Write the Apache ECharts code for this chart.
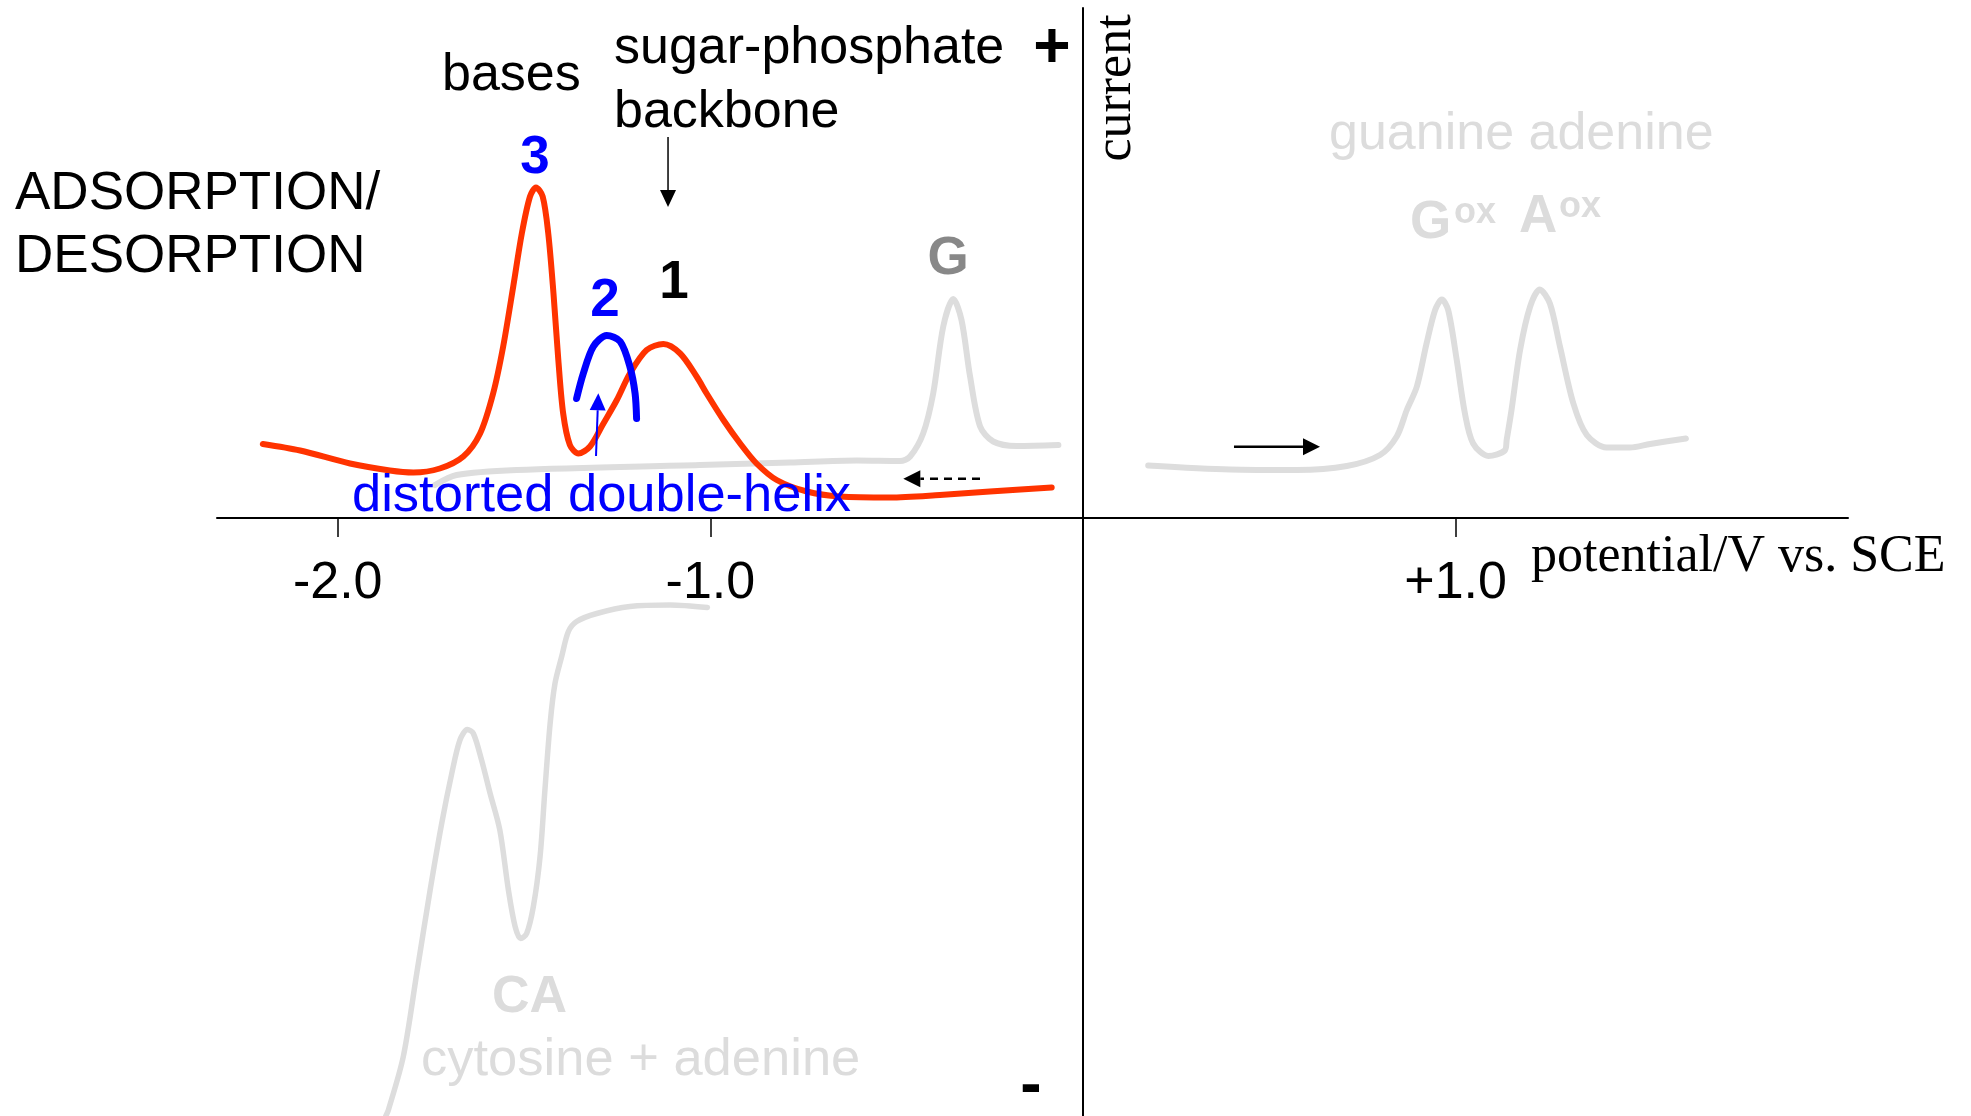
<!DOCTYPE html>
<html><head><meta charset="utf-8">
<script src="https://cdn.jsdelivr.net/npm/echarts@6/dist/echarts.min.js"></script>
<style>html,body{margin:0;padding:0;background:#fff}#c{width:1971px;height:1116px}</style>
</head><body><div id="c"></div>
<script>
// ---- data (potential / V vs. SCE, current in arbitrary units) ----
const xTicks = [-2, -1, 1];
const xTickLabels = ['-2.0', '-1.0', '+1.0'];

// adsorption/desorption (tensammetric) curve of DNA - red
const redCurve = [[-2.201,1.48],[-2.101,1.35],[-1.967,1.09],[-1.860,0.95],[-1.797,0.91],[-1.726,0.99],[-1.663,1.23],[-1.618,1.69],[-1.583,2.49],[-1.556,3.43],[-1.529,4.63],[-1.506,5.69],[-1.484,6.43],[-1.468,6.61],[-1.450,6.43],[-1.435,5.69],[-1.421,4.49],[-1.408,3.16],[-1.395,2.09],[-1.377,1.46],[-1.354,1.29],[-1.323,1.43],[-1.287,1.89],[-1.251,2.36],[-1.216,2.89],[-1.171,3.36],[-1.126,3.48],[-1.081,3.29],[-1.037,2.83],[-1.010,2.49],[-0.965,1.96],[-0.920,1.49],[-0.876,1.09],[-0.822,0.76],[-0.741,0.53],[-0.652,0.43],[-0.518,0.41],[-0.384,0.46],[-0.250,0.53],[-0.084,0.61]];

// peak 2 (distorted double-helix) - blue
const blueCurve2 = [[-1.359,2.39],[-1.341,2.89],[-1.314,3.43],[-1.278,3.65],[-1.242,3.53],[-1.216,3.03],[-1.202,2.49],[-1.198,1.99]];

// reverse scan with guanine reduction-product peak G - grey
const grayReverse = [[-1.739,0.66],[-1.681,0.86],[-1.520,0.96],[-1.028,1.06],[-0.786,1.11],[-0.607,1.15],[-0.491,1.14],[-0.464,1.23],[-0.429,1.69],[-0.402,2.49],[-0.375,3.83],[-0.348,4.38],[-0.326,3.96],[-0.303,2.83],[-0.276,1.83],[-0.241,1.53],[-0.178,1.44],[-0.066,1.46]];

// anodic oxidation of guanine and adenine - grey
const grayOxidation = [[0.175,1.05],[0.395,0.97],[0.574,0.96],[0.708,1.04],[0.797,1.26],[0.842,1.63],[0.869,2.16],[0.896,2.63],[0.922,3.49],[0.945,4.16],[0.963,4.37],[0.980,4.16],[1.003,3.16],[1.025,2.09],[1.047,1.49],[1.088,1.24],[1.132,1.35],[1.137,1.56],[1.150,2.16],[1.173,3.36],[1.200,4.23],[1.226,4.57],[1.253,4.29],[1.280,3.43],[1.316,2.29],[1.352,1.66],[1.405,1.41],[1.468,1.41],[1.522,1.48],[1.618,1.59]];

// cathodic reduction of cytosine + adenine (CA) - grey
const grayCA = [[-1.871,-11.96],[-1.864,-11.84],[-1.824,-10.77],[-1.788,-9.11],[-1.752,-7.44],[-1.721,-6.11],[-1.694,-5.11],[-1.672,-4.44],[-1.652,-4.23],[-1.636,-4.31],[-1.614,-4.84],[-1.591,-5.51],[-1.565,-6.24],[-1.542,-7.44],[-1.524,-8.17],[-1.509,-8.41],[-1.493,-8.31],[-1.475,-7.77],[-1.457,-6.77],[-1.444,-5.44],[-1.430,-4.11],[-1.417,-3.31],[-1.399,-2.77],[-1.381,-2.27],[-1.359,-2.07],[-1.305,-1.91],[-1.216,-1.77],[-1.108,-1.74],[-1.008,-1.79]];

// ---- chart ----
const SANS = '"Liberation Sans", Arial, Helvetica, sans-serif';
const SERIF = '"Liberation Serif", "Times New Roman", Times, serif';
const RED = '#ff3300', BLUE = '#0000ff', LGRAY = '#dddddd', TGRAY = '#dcdcdc';
const X_MIN = -2.324, X_MAX = 2.053;

const chart = echarts.init(document.getElementById('c'), null, {renderer: 'canvas'});

function lineSeries(data, color, width, z) {
  return {type: 'line', data: data, showSymbol: false, smooth: 0.3, z: z, clip: true,
    xAxisIndex: 0, yAxisIndex: 0,
    lineStyle: {color: color, width: width, cap: 'round', join: 'round'}, silent: true};
}

chart.setOption({
  animation: false,
  backgroundColor: '#ffffff',
  grid: [
    {left: 217, top: 8, width: 1631, height: 1110, containLabel: false, outerBoundsMode: 'none'},
    // helper grid whose bottom edge lies on the zero line: carries the tick labels
    {left: 217, top: 8, width: 1631, height: 510, containLabel: false, outerBoundsMode: 'none'}
  ],
  xAxis: [{
    gridIndex: 0, type: 'value', min: X_MIN, max: X_MAX,
    axisLine: {show: true, onZero: true, lineStyle: {color: '#000', width: 2}},
    axisTick: {show: true, customValues: xTicks, length: 19, lineStyle: {color: '#000', width: 1.5}},
    axisLabel: {show: false},
    splitLine: {show: false}
  }, {
    gridIndex: 1, type: 'value', min: X_MIN, max: X_MAX, position: 'bottom',
    axisLine: {show: false, onZero: false},
    axisTick: {show: false},
    axisLabel: {show: true, customValues: xTicks, margin: 40, fontSize: 52, fontFamily: SANS, color: '#000',
      formatter: function (v) { const i = xTicks.indexOf(v); return i >= 0 ? xTickLabels[i] : ''; }},
    splitLine: {show: false}
  }],
  yAxis: [{
    gridIndex: 0, type: 'value', min: -12, max: 10.2,
    axisLine: {show: true, onZero: true, lineStyle: {color: '#000', width: 2}},
    axisTick: {show: false}, axisLabel: {show: false}, splitLine: {show: false}
  }, {
    gridIndex: 1, type: 'value', min: 0, max: 1, show: false
  }],
  series: [
    lineSeries(grayReverse, LGRAY, 6, 2),
    lineSeries(grayOxidation, LGRAY, 6, 2),
    lineSeries(grayCA, LGRAY, 5.5, 2),
    lineSeries(redCurve, RED, 6, 3),
    lineSeries(blueCurve2, BLUE, 7, 4)
  ]
});

// ---- annotations ----
function arrow(from, to, color, width, dash, headLen, headW) {
  const p0 = chart.convertToPixel({gridIndex: 0}, from);
  const p1 = chart.convertToPixel({gridIndex: 0}, to);
  const dx = p1[0] - p0[0], dy = p1[1] - p0[1];
  const L = Math.hypot(dx, dy), ux = dx / L, uy = dy / L;
  const bx = p1[0] - ux * headLen, by = p1[1] - uy * headLen;
  return [
    {type: 'line', z: 20, shape: {x1: p0[0], y1: p0[1], x2: bx, y2: by},
      style: {stroke: color, lineWidth: width, lineDash: dash || null}},
    {type: 'polygon', z: 20, shape: {points: [[p1[0], p1[1]], [bx - uy * headW / 2, by + ux * headW / 2], [bx + uy * headW / 2, by - ux * headW / 2]]},
      style: {fill: color}}
  ];
}
function txt(s, x, baseline, size, o) {
  o = o || {};
  const fam = o.family || SANS;
  const k = o.family === SERIF ? 0.30 : 0.26;
  return {type: 'text', z: 30, x: x, y: baseline - k * size, rotation: o.rotation || 0,
    style: {text: s, font: (o.weight || 'normal') + ' ' + size + 'px ' + fam,
      fill: o.color || '#000', align: o.align || 'left', textAlign: o.align || 'left',
      verticalAlign: 'middle', textVerticalAlign: 'middle'}};
}

const g = [].concat(
  arrow([-1.1136, 7.62], [-1.1136, 6.22], '#000', 1.5, null, 17, 16),
  arrow([-1.3069, 1.24], [-1.3007, 2.494], BLUE, 2, null, 17, 16),
  arrow([-0.2764, 0.786], [-0.4822, 0.786], '#000', 2.5, [8, 6], 17, 17),
  arrow([0.4052, 1.426], [0.6360, 1.426], '#000', 2.5, null, 17, 17),
  [
    txt('ADSORPTION/', 15, 208, 53),
    txt('DESORPTION', 15, 271, 53),
    txt('bases', 442, 89, 52),
    txt('sugar-phosphate', 614, 62, 52),
    txt('backbone', 614, 126, 52),
    txt('+', 1052, 66, 64, {weight: 'bold', align: 'center'}),
    txt('3', 535, 172, 53, {weight: 'bold', color: BLUE, align: 'center'}),
    txt('2', 605, 315, 53, {weight: 'bold', color: BLUE, align: 'center'}),
    txt('1', 674, 297, 53, {weight: 'bold', align: 'center'}),
    txt('G', 948, 273, 53, {weight: 'bold', color: '#888888', align: 'center'}),
    {type: 'text', z: 30, x: 1116, y: 88, rotation: Math.PI / 2,
      style: {text: 'current', font: 'normal 52px ' + SERIF, fill: '#000', align: 'center', textAlign: 'center',
        verticalAlign: 'middle', textVerticalAlign: 'middle'}},
    txt('guanine adenine', 1329, 148, 52, {color: TGRAY}),
    txt('G', 1410, 237, 53, {weight: 'bold', color: TGRAY}),
    txt('ox', 1454, 222, 36, {weight: 'bold', color: TGRAY}),
    txt('A', 1519, 231, 53, {weight: 'bold', color: TGRAY}),
    txt('ox', 1559, 216, 36, {weight: 'bold', color: TGRAY}),
    txt('distorted double-helix', 352, 510, 52.5, {color: BLUE}),
    txt('potential/V vs. SCE', 1531, 573, 52, {family: SERIF}),
    txt('CA', 492, 1011, 52, {weight: 'bold', color: TGRAY}),
    txt('cytosine + adenine', 421, 1074, 52.5, {color: TGRAY}),
    txt('-', 1031, 1104, 64, {weight: 'bold', align: 'center'})
  ]
);
chart.setOption({graphic: {elements: g}});
</script>
</body></html>
